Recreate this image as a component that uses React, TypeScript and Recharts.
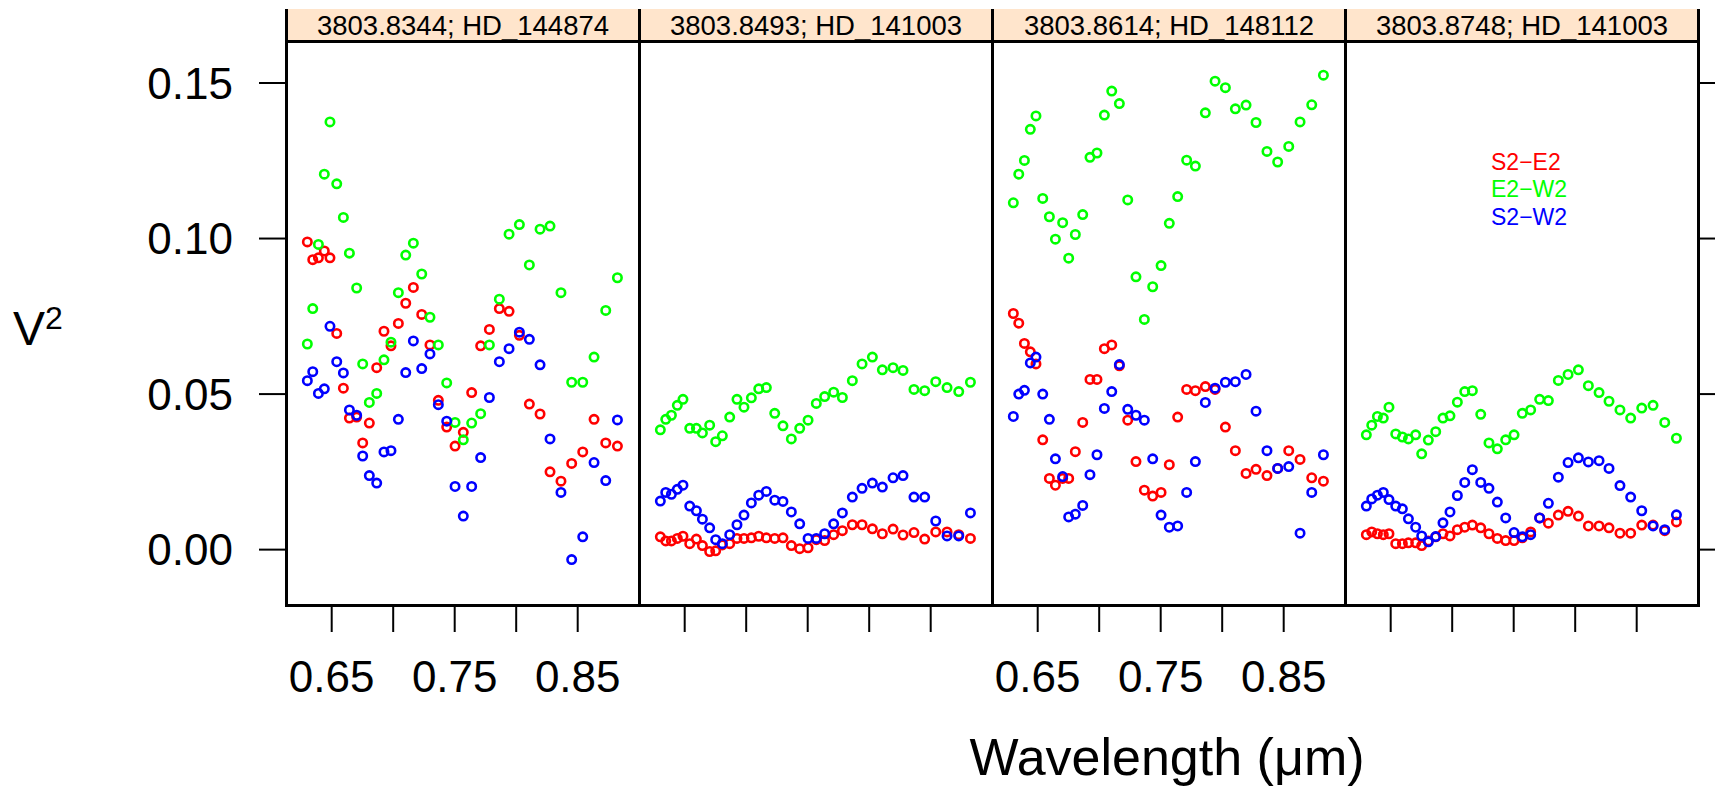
import React from 'react';
import { ScatterChart, Scatter, XAxis, YAxis } from 'recharts';

// ---------- data ----------
const wavelength = [0.6302, 0.6346, 0.6392, 0.644, 0.6486, 0.6541, 0.6595, 0.6644, 0.6703, 0.6752, 0.6806, 0.6866, 0.6925, 0.6982, 0.7042, 0.7102, 0.7164, 0.7232, 0.7299, 0.7367, 0.7435, 0.7503, 0.757, 0.7638, 0.7711, 0.7782, 0.7863, 0.7942, 0.8026, 0.8107, 0.8194, 0.8275, 0.8364, 0.8451, 0.8541, 0.8633, 0.8728, 0.8823];

const panelTitles = ['3803.8344; HD_144874', '3803.8493; HD_141003', '3803.8614; HD_148112', '3803.8748; HD_141003'];
const baselineNames = ['S2\u2212E2', 'E2\u2212W2', 'S2\u2212W2'];
const baselineColors = ['#FF0000', '#00FF00', '#0000FF'];
const yTicks = [0, 0.05, 0.1, 0.15];
const xTicks = [0.65, 0.7, 0.75, 0.8, 0.85];
const xTickLabels = ['0.65', '', '0.75', '', '0.85'];

const p1S2E2 = [0.0989, 0.0932, 0.0938, 0.096, 0.0938, 0.0695, 0.0519, 0.0423, 0.0426, 0.0343, 0.0407, 0.0585, 0.0702, 0.0655, 0.0727, 0.0792, 0.0843, 0.0756, 0.0658, 0.048, 0.0394, 0.0333, 0.0377, 0.0505, 0.0655, 0.0708, 0.0775, 0.0766, 0.0689, 0.0468, 0.0436, 0.025, 0.022, 0.0277, 0.0314, 0.0419, 0.0343, 0.0333];
const p1E2W2 = [0.0661, 0.0775, 0.0981, 0.1207, 0.1375, 0.1176, 0.1068, 0.0953, 0.0841, 0.0597, 0.0473, 0.0502, 0.061, 0.0667, 0.0826, 0.0947, 0.0985, 0.0886, 0.0747, 0.0658, 0.0536, 0.0409, 0.0353, 0.0407, 0.0437, 0.0658, 0.0805, 0.1014, 0.1045, 0.0915, 0.103, 0.104, 0.0826, 0.0538, 0.0538, 0.0619, 0.0769, 0.0874];
const p1S2W2 = [0.0543, 0.0572, 0.0502, 0.0517, 0.0718, 0.0604, 0.0568, 0.0449, 0.0432, 0.0301, 0.0238, 0.0214, 0.0314, 0.0318, 0.0419, 0.0569, 0.0671, 0.0582, 0.0629, 0.0466, 0.0413, 0.0203, 0.0108, 0.0203, 0.0296, 0.0489, 0.0604, 0.0646, 0.0699, 0.0676, 0.0594, 0.0356, 0.0184, -0.0032, 0.0041, 0.028, 0.0222, 0.0417];

const p2S2E2 = [0.0041, 0.0028, 0.0028, 0.0036, 0.0043, 0.0019, 0.0034, 0.0013, -0.0006, -0.0004, 0.0015, 0.0019, 0.0036, 0.0036, 0.0038, 0.0043, 0.0038, 0.0036, 0.0038, 0.0013, 0.0003, 0.0006, 0.0032, 0.0029, 0.0048, 0.0061, 0.008, 0.008, 0.0067, 0.0051, 0.0066, 0.0047, 0.0055, 0.0034, 0.0057, 0.0057, 0.0048, 0.0036];
const p2E2W2 = [0.0385, 0.0419, 0.0432, 0.0464, 0.0483, 0.039, 0.039, 0.0375, 0.04, 0.0347, 0.0366, 0.0426, 0.0483, 0.0458, 0.0488, 0.0517, 0.0521, 0.0438, 0.0398, 0.0356, 0.039, 0.0416, 0.047, 0.0492, 0.0506, 0.0489, 0.0543, 0.0597, 0.0619, 0.0578, 0.0585, 0.0576, 0.0515, 0.0511, 0.054, 0.0521, 0.0508, 0.0538];
const p2S2W2 = [0.0156, 0.0184, 0.0178, 0.0194, 0.0207, 0.014, 0.0125, 0.0098, 0.007, 0.0032, 0.0019, 0.0048, 0.008, 0.0111, 0.015, 0.0175, 0.0187, 0.0159, 0.0155, 0.0121, 0.0083, 0.0036, 0.0036, 0.0051, 0.0083, 0.0118, 0.0169, 0.0197, 0.0214, 0.0201, 0.0231, 0.0238, 0.0169, 0.0169, 0.0092, 0.0044, 0.0044, 0.0118];

const p3S2E2 = [0.0759, 0.0728, 0.0663, 0.0636, 0.0597, 0.0353, 0.0229, 0.0207, 0.0229, 0.0229, 0.0315, 0.0409, 0.0547, 0.0547, 0.0646, 0.0658, 0.0591, 0.0416, 0.0283, 0.0191, 0.0172, 0.0184, 0.0273, 0.0426, 0.0515, 0.0511, 0.0524, 0.0515, 0.0394, 0.0318, 0.0245, 0.0258, 0.0238, 0.0261, 0.0318, 0.029, 0.0231, 0.022];
const p3E2W2 = [0.1115, 0.1207, 0.1251, 0.1351, 0.1394, 0.1129, 0.107, 0.0998, 0.1051, 0.0937, 0.1013, 0.1077, 0.1261, 0.1275, 0.1397, 0.1474, 0.1434, 0.1124, 0.0877, 0.074, 0.0845, 0.0913, 0.1049, 0.1135, 0.1252, 0.1233, 0.1404, 0.1506, 0.1485, 0.1417, 0.1429, 0.1373, 0.128, 0.1246, 0.1296, 0.1375, 0.143, 0.1525];
const p3S2W2 = [0.0428, 0.05, 0.0512, 0.06, 0.0619, 0.05, 0.0419, 0.0292, 0.0235, 0.0105, 0.0114, 0.0142, 0.0241, 0.0305, 0.0454, 0.0508, 0.0595, 0.0451, 0.0432, 0.0416, 0.0292, 0.0111, 0.0072, 0.0076, 0.0184, 0.0283, 0.0473, 0.0519, 0.0538, 0.054, 0.0563, 0.0445, 0.0318, 0.0261, 0.0267, 0.0053, 0.0184, 0.0305];

const p4S2E2 = [0.0048, 0.0057, 0.0051, 0.0048, 0.0051, 0.0019, 0.0019, 0.0022, 0.0022, 0.0013, 0.0028, 0.0041, 0.0051, 0.0044, 0.0064, 0.0072, 0.0079, 0.007, 0.0051, 0.0036, 0.0029, 0.0029, 0.0038, 0.0057, 0.0102, 0.0085, 0.0111, 0.0123, 0.0108, 0.0076, 0.0076, 0.007, 0.0053, 0.0053, 0.0079, 0.0079, 0.0061, 0.0089];
const p4E2W2 = [0.0369, 0.04, 0.0428, 0.0423, 0.0458, 0.0372, 0.0362, 0.0356, 0.0369, 0.0308, 0.0352, 0.0379, 0.0423, 0.043, 0.0474, 0.0508, 0.0511, 0.0435, 0.0343, 0.0324, 0.0353, 0.0369, 0.0438, 0.0449, 0.0483, 0.0479, 0.0544, 0.0563, 0.0578, 0.0527, 0.0505, 0.0477, 0.0449, 0.0423, 0.0455, 0.0464, 0.0409, 0.0358];
const p4S2W2 = [0.014, 0.0163, 0.0175, 0.0184, 0.0161, 0.014, 0.0131, 0.0099, 0.0072, 0.0044, 0.0025, 0.0042, 0.0086, 0.0121, 0.0174, 0.0216, 0.0257, 0.0216, 0.0197, 0.0153, 0.0102, 0.0055, 0.0041, 0.0048, 0.0102, 0.0149, 0.0233, 0.028, 0.0295, 0.0282, 0.0286, 0.0261, 0.0206, 0.0169, 0.0125, 0.0076, 0.0064, 0.0112];

const panelSeries = [
  [p1S2E2, p1E2W2, p1S2W2],
  [p2S2E2, p2E2W2, p2S2W2],
  [p3S2E2, p3E2W2, p3S2W2],
  [p4S2E2, p4E2W2, p4S2W2],
];
const panelShowXLabels = [true, false, true, false];

// ---------- layout ----------
const FONT = '"Liberation Sans", Arial, Helvetica, sans-serif';
const PANEL_TOP = 41;
const PANEL_H = 564;
const PANEL_W = 353;
const PANEL_LEFT = [286, 639, 992, 1345];
const STRIP_TOP = 9;
const X_DOMAIN: [number, number] = [0.61285, 0.89984];
const Y_DOMAIN: [number, number] = [-0.0178, 0.1635];
const AXIS_H = 110;
const LEFT_AXIS_W = 286;
const RIGHT_AXIS_W = 40;

const toPoints = (ys: number[]) => ys.map((y, i) => ({ x: wavelength[i], y }));

const makeShape = (color: string) => (props: any) => {
  const { cx, cy } = props;
  if (cx == null || cy == null) return <g />;
  return <circle cx={cx} cy={cy} r={4.2} fill="none" stroke={color} strokeWidth={2.6} />;
};

const xLabelFor = (v: number) => {
  const idx = xTicks.findIndex((t) => Math.abs(t - v) < 1e-6);
  return idx >= 0 ? xTickLabels[idx] : '';
};

const tickStyle = { fill: '#000', fontSize: 44, fontFamily: FONT };
const tickLineStyle = { stroke: '#000', strokeWidth: 2 };

function Panel({ index }: { index: number }) {
  const isFirst = index === 0;
  const isLast = index === 3;
  const leftW = isFirst ? LEFT_AXIS_W : 0;
  const rightW = isLast ? RIGHT_AXIS_W : 0;
  const width = leftW + PANEL_W + rightW;
  const height = PANEL_H + AXIS_H;
  const left = isFirst ? 0 : PANEL_LEFT[index];
  const series = panelSeries[index];
  const showLabels = panelShowXLabels[index];
  return (
    <div style={{ position: 'absolute', left, top: PANEL_TOP, width, height }}>
      <ScatterChart width={width} height={height} margin={{ top: 0, right: 0, bottom: 0, left: 0 }}>
        <XAxis
          type="number"
          dataKey="x"
          domain={X_DOMAIN}
          allowDataOverflow
          ticks={xTicks}
          interval={0}
          tickFormatter={(v: number) => (showLabels ? xLabelFor(v) : '')}
          height={AXIS_H}
          tickSize={27}
          tickMargin={29}
          axisLine={false}
          tickLine={tickLineStyle}
          tick={tickStyle}
        />
        {isFirst ? (
          <YAxis
            type="number"
            dataKey="y"
            domain={Y_DOMAIN}
            allowDataOverflow
            ticks={yTicks}
            interval={0}
            tickFormatter={(v: number) => v.toFixed(2)}
            width={LEFT_AXIS_W}
            tickSize={27}
            tickMargin={26}
            axisLine={false}
            tickLine={tickLineStyle}
            tick={tickStyle}
          />
        ) : isLast ? (
          <YAxis
            type="number"
            dataKey="y"
            orientation="right"
            domain={Y_DOMAIN}
            allowDataOverflow
            ticks={yTicks}
            interval={0}
            tickFormatter={() => ''}
            width={RIGHT_AXIS_W}
            tickSize={27}
            tickMargin={2}
            axisLine={false}
            tickLine={tickLineStyle}
            tick={tickStyle}
          />
        ) : (
          <YAxis type="number" dataKey="y" domain={Y_DOMAIN} allowDataOverflow hide />
        )}
        {series.map((ys, si) => (
          <Scatter
            key={baselineNames[si]}
            name={baselineNames[si]}
            data={toPoints(ys)}
            isAnimationActive={false}
            shape={makeShape(baselineColors[si])}
          />
        ))}
      </ScatterChart>
    </div>
  );
}

export default function App() {
  return (
    <div
      style={{
        position: 'absolute',
        left: 0,
        top: 0,
        width: 1715,
        height: 797,
        overflow: 'hidden',
        background: '#fff',
        fontFamily: FONT,
      }}
    >
      {[0, 1, 2, 3].map((i) => (
        <Panel key={i} index={i} />
      ))}
      {/* strips */}
      {[0, 1, 2, 3].map((i) => (
        <div
          key={'s' + i}
          style={{
            position: 'absolute',
            left: PANEL_LEFT[i] - 1,
            top: STRIP_TOP,
            width: PANEL_W + 3,
            height: PANEL_TOP - STRIP_TOP,
            boxSizing: 'border-box',
            background: '#FFE5CC',
            borderLeft: '3px solid #000',
            borderRight: '3px solid #000',
            textAlign: 'center',
            fontSize: 27.5,
            lineHeight: `${PANEL_TOP - STRIP_TOP + 2}px`,
            color: '#000',
            whiteSpace: 'nowrap',
          }}
        >
          {panelTitles[i]}
        </div>
      ))}
      {/* panel frames */}
      {[0, 1, 2, 3].map((i) => (
        <div
          key={'f' + i}
          style={{
            position: 'absolute',
            left: PANEL_LEFT[i] - 1,
            top: PANEL_TOP - 1,
            width: PANEL_W - 3,
            height: PANEL_H - 3,
            border: '3px solid #000',
            boxSizing: 'content-box',
            pointerEvents: 'none',
          }}
        />
      ))}
      <svg
        width={1715}
        height={797}
        style={{ position: 'absolute', left: 0, top: 0, pointerEvents: 'none' }}
      >
        <text x={13} y={345} fontSize={48} fontFamily={FONT} fill="#000">
          V
          <tspan fontSize={32} dy={-16}>2</tspan>
        </text>
        <text x={1167} y={775} fontSize={52} fontFamily={FONT} fill="#000" textAnchor="middle">
          Wavelength (μm)
        </text>
        {baselineNames.map((n, i) => (
          <text
            key={n}
            x={1491}
            y={169.5 + i * 27.5}
            fontSize={23}
            fontFamily={FONT}
            fill={baselineColors[i]}
          >
            {n}
          </text>
        ))}
      </svg>
    </div>
  );
}
